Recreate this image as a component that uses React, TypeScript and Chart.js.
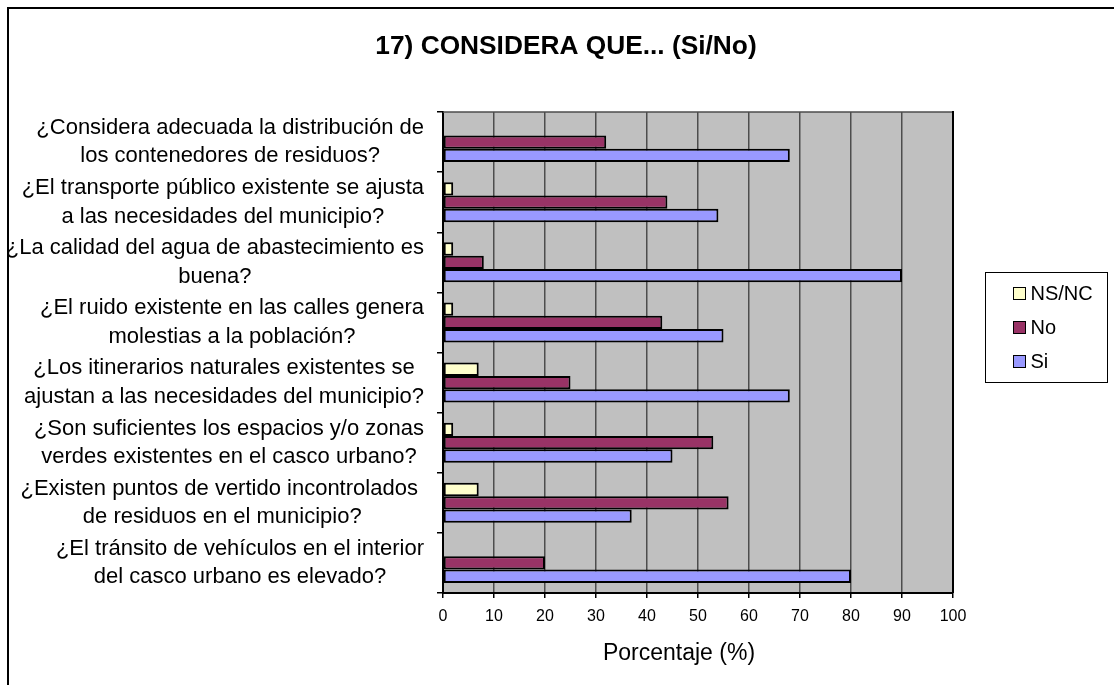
import React, { useEffect, useRef } from 'react';
import { Chart, registerables } from 'chart.js';

Chart.register(...registerables);

const chartTitle = '17) CONSIDERA QUE... (Si/No)';
const axisTitle = 'Porcentaje (%)';
const categories: string[][] = [
  ['¿Considera adecuada la distribución de', 'los contenedores de residuos?'],
  ['¿El transporte público existente se ajusta', 'a las necesidades del municipio?'],
  ['¿La calidad del agua de abastecimiento es', 'buena?'],
  ['¿El ruido existente en las calles genera', 'molestias a la población?'],
  ['¿Los itinerarios naturales existentes se', 'ajustan a las necesidades del municipio?'],
  ['¿Son suficientes los espacios y/o zonas', 'verdes existentes en el casco urbano?'],
  ['¿Existen puntos de vertido incontrolados ', 'de residuos en el municipio?'],
  ['¿El tránsito de vehículos en el interior', 'del casco urbano es elevado?'],
];
const seriesNames = ['NS/NC', 'No', 'Si'];
const nsncValues = [0, 2, 2, 2, 7, 2, 7, 0];
const noValues = [32, 44, 8, 43, 25, 53, 56, 20];
const siValues = [68, 54, 90, 55, 68, 45, 37, 80];
const xMin = 0;
const xMax = 100;
const xStep = 10;

const FONT = '"Liberation Sans", Arial, Helvetica, sans-serif';
const COLORS = ['#ffffcc', '#993366', '#9999ff'];

const decorPlugin = {
  id: 'decor',
  beforeDraw(chart: any) {
    const { ctx, chartArea } = chart;
    ctx.save();
    ctx.fillStyle = '#ffffff';
    ctx.fillRect(0, 0, chart.width, chart.height);
    ctx.fillStyle = '#000000';
    ctx.fillRect(7, 7, 2, chart.height);
    ctx.fillRect(7, 7, chart.width, 2);
    ctx.fillStyle = '#c0c0c0';
    ctx.fillRect(chartArea.left, chartArea.top, chartArea.right - chartArea.left, chartArea.bottom - chartArea.top);
    ctx.restore();
  },
  afterDraw(chart: any) {
    const { ctx, chartArea } = chart;
    ctx.save();
    ctx.strokeStyle = '#4d4d4d';
    ctx.lineWidth = 1.5;
    ctx.beginPath();
    ctx.moveTo(chartArea.left, chartArea.top);
    ctx.lineTo(chartArea.right, chartArea.top);
    ctx.stroke();
    ctx.strokeStyle = '#000000';
    ctx.lineWidth = 2;
    ctx.beginPath();
    ctx.moveTo(chartArea.right, chartArea.top - 1);
    ctx.lineTo(chartArea.right, chartArea.bottom);
    ctx.stroke();

    ctx.fillStyle = '#000000';
    ctx.font = `bold 26.3px ${FONT}`;
    ctx.textAlign = 'center';
    ctx.textBaseline = 'middle';
    ctx.fillText(chartTitle, 566, 47);

    const ys = chart.scales.y;
    ctx.font = `22px ${FONT}`;
    const right = chartArea.left - 19;
    const lh = 28.5;
    categories.forEach((lines, i) => {
      const y = ys.getPixelForValue(i);
      const w = Math.max(...lines.map((l) => ctx.measureText(l).width));
      const cx = right - w / 2;
      lines.forEach((l, j) => {
        ctx.fillText(l, cx, y + (j - (lines.length - 1) / 2) * lh);
      });
    });

    ctx.font = `23px ${FONT}`;
    ctx.fillText(axisTitle, 679, 654);

    const bx = 985.5;
    const by = 272.5;
    const bw = 122;
    const bh = 110;
    ctx.strokeStyle = '#000000';
    ctx.lineWidth = 1;
    ctx.strokeRect(bx, by, bw, bh);
    ctx.font = `20px ${FONT}`;
    ctx.textAlign = 'left';
    seriesNames.forEach((name, i) => {
      const ry = by + 21 + i * 34;
      ctx.fillStyle = COLORS[i];
      ctx.fillRect(bx + 28, ry - 6, 12, 12);
      ctx.strokeStyle = '#000000';
      ctx.lineWidth = 1;
      ctx.strokeRect(bx + 28, ry - 6, 12, 12);
      ctx.fillStyle = '#000000';
      ctx.fillText(name, bx + 45, ry + 1);
    });
    ctx.restore();
  },
};

export default function App() {
  const canvasRef = useRef<HTMLCanvasElement | null>(null);

  useEffect(() => {
    document.body.style.overflow = 'hidden';
    const canvas = canvasRef.current;
    if (!canvas) return;
    const seriesValues = [nsncValues, noValues, siValues];
    const chart = new Chart(canvas, {
      type: 'bar',
      data: {
        labels: categories.map((c) => c.join(' ')),
        datasets: seriesNames.map((name, i) => ({
          label: name,
          data: seriesValues[i],
          backgroundColor: COLORS[i],
          borderColor: '#000000',
          borderWidth: 2,
          borderSkipped: false,
          categoryPercentage: 0.667,
          barPercentage: 1.0,
        })),
      },
      options: {
        indexAxis: 'y',
        animation: false,
        responsive: false,
        devicePixelRatio: 1,
        layout: { padding: { top: 112, right: 161, bottom: 0, left: 0 } },
        plugins: {
          legend: { display: false },
          title: { display: false },
          tooltip: { enabled: false },
        },
        scales: {
          x: {
            type: 'linear',
            min: xMin,
            max: xMax,
            ticks: {
              stepSize: xStep,
              color: '#000000',
              font: { family: FONT, size: 16 },
              padding: 9,
            },
            grid: {
              color: '#4d4d4d',
              lineWidth: 1.5,
              tickColor: '#000000',
              tickLength: 5,
              drawTicks: true,
            },
            border: { color: '#000000', width: 2 },
            afterFit: (scale: any) => {
              scale.height = 92;
            },
          },
          y: {
            type: 'category',
            offset: true,
            ticks: { display: false },
            grid: {
              drawOnChartArea: false,
              drawTicks: true,
              tickLength: 6,
              color: '#000000',
              lineWidth: 1.5,
              offset: true,
            },
            border: { color: '#000000', width: 2 },
            afterFit: (scale: any) => {
              scale.width = 443;
            },
          },
        },
      },
      plugins: [decorPlugin],
    });
    return () => chart.destroy();
  }, []);

  return (
    <div style={{ position: 'fixed', left: 0, top: 0, width: 1114, height: 685 }}>
      <canvas ref={canvasRef} width={1114} height={685} style={{ display: 'block' }} />
    </div>
  );
}
